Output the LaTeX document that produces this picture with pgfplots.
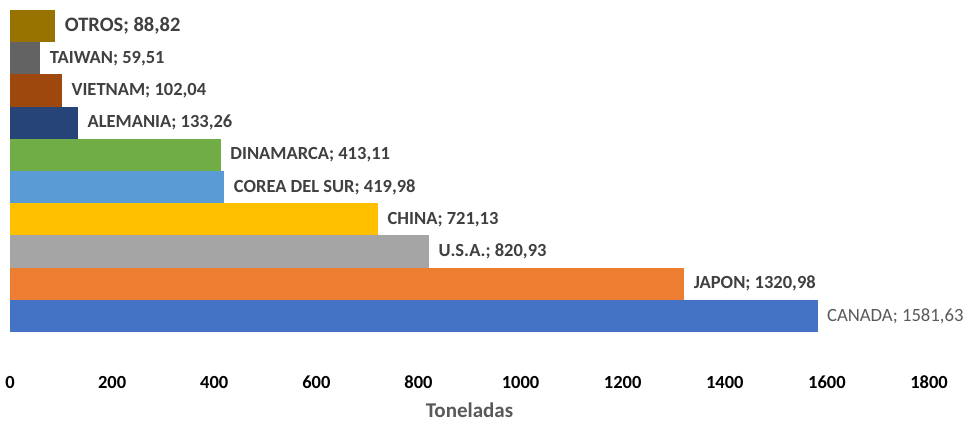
\documentclass[border=0pt]{standalone}
\usepackage{fontspec}
\setmainfont{Carlito}
\usepackage{pgfplots}
\pgfplotsset{compat=1.18}

\definecolor{cCanada}{HTML}{4472C4}
\definecolor{cJapon}{HTML}{ED7D31}
\definecolor{cUsa}{HTML}{A5A5A5}
\definecolor{cChina}{HTML}{FFC000}
\definecolor{cCorea}{HTML}{5B9BD5}
\definecolor{cDinamarca}{HTML}{70AD47}
\definecolor{cAlemania}{HTML}{264478}
\definecolor{cVietnam}{HTML}{9E480E}
\definecolor{cTaiwan}{HTML}{636363}
\definecolor{cOtros}{HTML}{997300}
\definecolor{lbl}{HTML}{404040}
\definecolor{axlbl}{HTML}{595959}

\begin{document}
\begin{tikzpicture}
\begin{axis}[
    name=ax,
    scale only axis,
    width=919bp, height=322bp,
    xbar, bar width=32.2bp, bar shift=0pt,
    xmin=0, xmax=1800,
    ymin=-0.5, ymax=9.5,
    axis line style={draw=none},
    major tick length=0pt,
    ytick=\empty,
    xtick={0,200,...,1800},
    xticklabels={0,200,400,600,800,1000,1200,1400,1600,1800},
    xticklabel style={anchor=base, yshift=-56bp,
        font=\fontsize{18.5bp}{22bp}\selectfont\bfseries, text=black},
    xlabel={Toneladas},
    xlabel style={at={(axis description cs:0.5,0)}, anchor=base, yshift=-85bp,
        font=\fontsize{21bp}{25bp}\selectfont\bfseries, text=axlbl},
    every node near coord/.append style={anchor=west, xshift=6bp,
        font=\fontsize{18.5bp}{22bp}\selectfont\bfseries, text=lbl},
    clip=false,
]
\addplot[fill=cCanada, draw=none, nodes near coords={{CANADA; 1581,63}},
    every node near coord/.append style={font=\fontsize{18.7bp}{22bp}\selectfont\mdseries, text=axlbl}]
    coordinates {(1581.63,0)};
\addplot[fill=cJapon, draw=none, nodes near coords={{JAPON; 1320,98}}]
    coordinates {(1320.98,1)};
\addplot[fill=cUsa, draw=none, nodes near coords={{U.S.A.; 820,93}}]
    coordinates {(820.93,2)};
\addplot[fill=cChina, draw=none, nodes near coords={{CHINA; 721,13}}]
    coordinates {(721.13,3)};
\addplot[fill=cCorea, draw=none, nodes near coords={{COREA DEL SUR; 419,98}}]
    coordinates {(419.98,4)};
\addplot[fill=cDinamarca, draw=none, nodes near coords={{DINAMARCA; 413,11}}]
    coordinates {(413.11,5)};
\addplot[fill=cAlemania, draw=none, nodes near coords={{ALEMANIA; 133,26}}]
    coordinates {(133.26,6)};
\addplot[fill=cVietnam, draw=none, nodes near coords={{VIETNAM; 102,04}}]
    coordinates {(102.04,7)};
\addplot[fill=cTaiwan, draw=none, nodes near coords={{TAIWAN; 59,51}}]
    coordinates {(59.51,8)};
\addplot[fill=cOtros, draw=none, nodes near coords={{OTROS; 88,82}},
    every node near coord/.append style={font=\fontsize{20.5bp}{24bp}\selectfont\bfseries}]
    coordinates {(88.82,9)};
\end{axis}
\pgfresetboundingbox
\path[use as bounding box] ([xshift=-10bp,yshift=-89bp]ax.south west)
    rectangle ([xshift=36bp,yshift=10bp]ax.north east);
\end{tikzpicture}
\end{document}
